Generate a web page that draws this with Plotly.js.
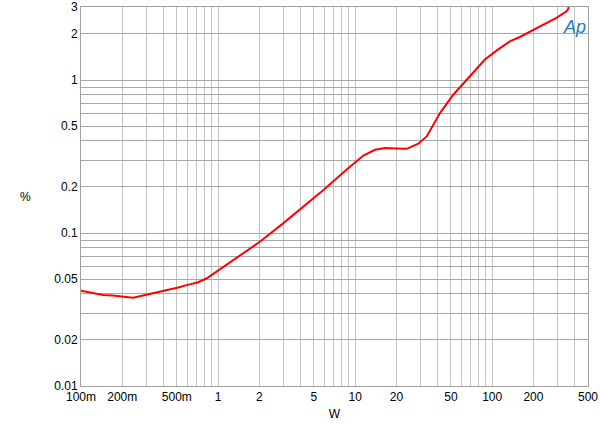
<!DOCTYPE html>
<html>
<head>
<meta charset="utf-8">
<script src="https://cdn.plot.ly/plotly-3.0.1.min.js"></script>
<style>html,body{margin:0;padding:0;background:#fff;}#chart{width:600px;height:425px;}</style>
</head>
<body>
<div id="chart"></div>
<script>
// Power (W)
var powerW = [0.1, 0.125, 0.145, 0.17, 0.2, 0.24, 0.3, 0.366, 0.44, 0.512, 0.6, 0.716, 0.828, 1.0, 1.295, 1.6, 2.03, 3.0, 3.97, 5.87, 8.68, 11.5, 13.97, 16.5, 20, 23.8, 28.9, 33.3, 41.6, 52, 65, 88.5, 110, 134.6, 159, 211, 294, 349, 360, 363];
// THD+N (%)
var thdPct = [0.042, 0.0405, 0.0394, 0.039, 0.0383, 0.0378, 0.0395, 0.041, 0.0425, 0.044, 0.0458, 0.0477, 0.0506, 0.0567, 0.0667, 0.076, 0.0879, 0.116, 0.143, 0.191, 0.26, 0.321, 0.35, 0.359, 0.357, 0.355, 0.383, 0.428, 0.608, 0.801, 1.0, 1.36, 1.58, 1.79, 1.91, 2.19, 2.55, 2.81, 2.93, 3.6];

var xTickVals = [];
var xTickText = [];
var xLabels = {"0.1":"100m","0.2":"200m","0.5":"500m","1":"1","2":"2","5":"5","10":"10","20":"20","50":"50","100":"100","200":"200","500":"500"};
[0.1, 1, 10, 100].forEach(function(d){
  for (var m = 1; m <= 9; m++) {
    var v = +(m * d).toPrecision(3);
    if (v > 500) break;
    xTickVals.push(v);
    xTickText.push(xLabels[String(v)] || "");
  }
});

var yTickVals = [];
var yTickText = [];
var yLabels = {"0.01":"0.01","0.02":"0.02","0.05":"0.05","0.1":"0.1","0.2":"0.2","0.5":"0.5","1":"1","2":"2","3":"3"};
[0.01, 0.1, 1].forEach(function(d){
  for (var m = 1; m <= 9; m++) {
    var v = +(m * d).toPrecision(3);
    if (v > 3) break;
    yTickVals.push(v);
    yTickText.push(yLabels[String(v)] || "");
  }
});

var trace = {
  x: powerW,
  y: thdPct,
  type: 'scatter',
  mode: 'lines',
  line: {color: '#ff0000', width: 2},
  hoverinfo: 'skip'
};

var layout = {
  width: 600,
  height: 425,
  margin: {l: 81, r: 12, t: 7, b: 39},
  paper_bgcolor: '#ffffff',
  plot_bgcolor: '#ffffff',
  showlegend: false,
  font: {family: 'Liberation Sans, Arial, sans-serif', size: 12, color: '#000'},
  xaxis: {
    type: 'log',
    range: [Math.log10(0.1), Math.log10(500)],
    tickmode: 'array',
    tickvals: xTickVals,
    ticktext: xTickText,
    ticks: '',
    showgrid: true,
    gridcolor: '#c4c4c4',
    gridwidth: 1,
    zeroline: false,
    showline: true,
    linecolor: '#a0a0a0',
    linewidth: 1,
    mirror: true,
    tickfont: {size: 12, color: '#000'},
    title: {text: 'W', font: {size: 12, color: '#000'}, standoff: 6}
  },
  yaxis: {
    type: 'log',
    range: [Math.log10(0.01), Math.log10(3)],
    tickmode: 'array',
    tickvals: yTickVals,
    ticktext: yTickText,
    ticks: '',
    showgrid: true,
    gridcolor: '#a8a8a8',
    gridwidth: 1,
    zeroline: false,
    showline: true,
    linecolor: '#a0a0a0',
    linewidth: 1,
    mirror: true,
    tickfont: {size: 12, color: '#000'}
  },
  annotations: [
    {text: '%', xref: 'paper', yref: 'paper', x: -0.11, y: 0.499, showarrow: false,
     font: {size: 12, color: '#000'}, xanchor: 'center', yanchor: 'middle'},
    {text: '<i>Ap</i>', xref: 'paper', yref: 'paper', x: 0.974, y: 0.948, showarrow: false,
     font: {size: 18, color: '#1f7bc4', family: 'Liberation Sans, Arial, sans-serif'}, xanchor: 'center', yanchor: 'middle'}
  ]
};

Plotly.newPlot('chart', [trace], layout, {staticPlot: true, displayModeBar: false});
</script>
</body>
</html>
